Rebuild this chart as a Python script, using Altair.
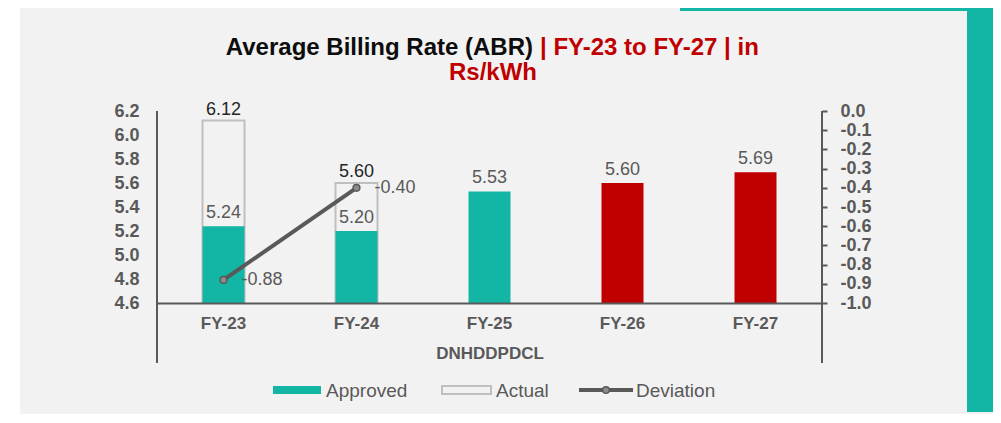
import altair as alt
import pandas as pd

# ---------------- data ----------------
categories = ["FY-23", "FY-24", "FY-25", "FY-26", "FY-27"]
approved = [5.24, 5.20, 5.53, 5.60, 5.69]
actual = [6.12, 5.60, None, None, None]
deviation = [-0.88, -0.40, None, None, None]
left_ticks = [4.6, 4.8, 5.0, 5.2, 5.4, 5.6, 5.8, 6.0, 6.2]
right_ticks = [-1.0, -0.9, -0.8, -0.7, -0.6, -0.5, -0.4, -0.3, -0.2, -0.1, 0.0]
legend_labels = ["Approved", "Actual", "Deviation"]
title_main = "Average Billing Rate (ABR)"
title_red1 = "| FY-23 to FY-27 | in"
title_red2 = "Rs/kWh"
group_label = "DNHDDPDCL"

# ---------------- style ----------------
TEAL = "#13B5A4"
RED = "#C00000"
GREY = "#595959"
OUTLINE = "#BFBFBF"
BG = "#F2F2F2"
FONT = "Liberation Sans"
W, H = 665, 192
HYPHEN = "replace(format(datum.value, '.1f'), '\u2212', '-')"

df = pd.DataFrame({"cat": categories, "approved": approved,
                   "actual": actual, "deviation": deviation})
df_act = df.dropna(subset=["actual"])
df_dev = df.dropna(subset=["deviation"])
one = pd.DataFrame({"k": [0]})

xenc = alt.X("cat:N", sort=categories,
             scale=alt.Scale(domain=categories, padding=0),
             axis=alt.Axis(title=group_label, labelAngle=0, labelFont=FONT,
                           labelFontWeight="bold", labelFontSize=17,
                           labelColor=GREY, labelPadding=12, ticks=False,
                           domain=True, domainColor=GREY, domainWidth=2,
                           titleFont=FONT, titleFontSize=17,
                           titleFontWeight="bold", titleColor=GREY,
                           titlePadding=14, grid=False, zindex=1))

left_scale = alt.Scale(domain=[4.6, 6.2], zero=False, nice=False)
left_axis = alt.Axis(orient="left", values=left_ticks, format=".1f",
                     tickCount=len(left_ticks) + 5,
                     ticks=False, domain=False, grid=False, labelFont=FONT,
                     labelFontWeight="bold", labelFontSize=18,
                     labelColor=GREY, labelPadding=18, labelOverlap=False,
                     labelFlush=False, title=None, zindex=1)
right_scale = alt.Scale(domain=[-1.0, 0.0], zero=False, nice=False)
right_axis = alt.Axis(orient="right", values=right_ticks,
                      tickCount=len(right_ticks) + 5,
                      labelExpr=HYPHEN,
                      ticks=True, tickSize=5, tickColor=GREY, tickWidth=2,
                      domain=False, grid=False, labelFont=FONT,
                      labelFontWeight="bold", labelFontSize=18,
                      labelColor=GREY, labelPadding=13, labelOverlap=False,
                      labelFlush=False, title=None, zindex=1)

# ---------------- left (bars) ----------------
actual_bar = alt.Chart(df_act).mark_bar(size=42, fill=BG, stroke=OUTLINE,
                                         strokeWidth=2).encode(
    x=xenc,
    y=alt.Y("actual:Q", scale=left_scale, axis=left_axis),
    y2=alt.datum(4.6),
)
approved_bar = alt.Chart(df).mark_bar(size=42).encode(
    x=alt.X("cat:N", sort=categories),
    y=alt.Y("approved:Q", scale=left_scale),
    y2=alt.datum(4.6),
    color=alt.Color("cat:N", scale=alt.Scale(domain=categories,
                    range=[TEAL, TEAL, TEAL, RED, RED]), legend=None),
)
approved_lbl = alt.Chart(df).mark_text(baseline="bottom", dy=-4, fontSize=18,
                                        font=FONT, color=GREY).encode(
    x=alt.X("cat:N", sort=categories),
    y=alt.Y("approved:Q", scale=left_scale),
    text=alt.Text("approved:Q", format=".2f"),
)
actual_lbl = alt.Chart(df_act).mark_text(baseline="bottom", dy=-2, fontSize=18,
                                          font=FONT, color="#262626").encode(
    x=alt.X("cat:N", sort=categories),
    y=alt.Y("actual:Q", scale=left_scale),
    text=alt.Text("actual:Q", format=".2f"),
)
left = alt.layer(actual_bar, approved_bar, approved_lbl, actual_lbl)

# ---------------- right (deviation) ----------------
dev_line = alt.Chart(df_dev).mark_line(color=GREY, strokeWidth=4).encode(
    x=alt.X("cat:N", sort=categories),
    y=alt.Y("deviation:Q", scale=right_scale, axis=right_axis),
)
dev_pts = alt.Chart(df_dev).mark_point(shape="circle", filled=True, size=45,
                                        fill="#8C8C8C", stroke=GREY,
                                        strokeWidth=1.5, opacity=1).encode(
    x=alt.X("cat:N", sort=categories),
    y=alt.Y("deviation:Q", scale=right_scale),
)
dev_lbl = alt.Chart(df_dev).transform_calculate(
    lbl="replace(format(datum.deviation, '.2f'), '\u2212', '-')"
).mark_text(align="left", baseline="middle", dx=18,
            fontSize=18, font=FONT, color=GREY).encode(
    x=alt.X("cat:N", sort=categories),
    y=alt.Y("deviation:Q", scale=right_scale),
    text="lbl:N",
)
right = alt.layer(dev_line, dev_pts, dev_lbl)

# ---------------- decorations ----------------
base = alt.Chart(one)
white_strip = base.mark_rect(color="#FFFFFF").encode(
    x=alt.value(-149), x2=alt.value(-137), y=alt.value(-103), y2=alt.value(310))
teal_side = base.mark_rect(color=TEAL).encode(
    x=alt.value(810), x2=alt.value(845), y=alt.value(-103), y2=alt.value(301))
teal_top = base.mark_rect(color=TEAL).encode(
    x=alt.value(523), x2=alt.value(836), y=alt.value(-103), y2=alt.value(-100))
vline_l = base.mark_rule(color=GREY, strokeWidth=2).encode(
    x=alt.value(0), y=alt.value(0), y2=alt.value(252))
vline_r = base.mark_rule(color=GREY, strokeWidth=2).encode(
    x=alt.value(W), y=alt.value(0), y2=alt.value(252))

t1 = base.mark_text(align="right", baseline="middle", fontSize=24,
                    fontWeight="bold", font=FONT, color="#0D0D0D").encode(
    x=alt.value(376), y=alt.value(-63), text=alt.value(title_main))
t2 = base.mark_text(align="left", baseline="middle", fontSize=24,
                    fontWeight="bold", font=FONT, color=RED).encode(
    x=alt.value(383), y=alt.value(-63), text=alt.value(title_red1))
t3 = base.mark_text(align="center", baseline="middle", fontSize=24,
                    fontWeight="bold", font=FONT, color=RED).encode(
    x=alt.value(336), y=alt.value(-38), text=alt.value(title_red2))

lg_app = base.mark_rect(color=TEAL).encode(
    x=alt.value(116), x2=alt.value(164), y=alt.value(275), y2=alt.value(283))
lg_act = base.mark_rect(fill=BG, stroke=OUTLINE, strokeWidth=2).encode(
    x=alt.value(285), x2=alt.value(334), y=alt.value(275), y2=alt.value(283))
lg_dev = base.mark_rule(color=GREY, strokeWidth=4).encode(
    x=alt.value(422), x2=alt.value(476), y=alt.value(279))
lg_dev_pt = base.mark_point(shape="circle", filled=True, size=45,
                            fill="#8C8C8C", stroke=GREY, strokeWidth=1.5,
                            opacity=1).encode(x=alt.value(449), y=alt.value(279))
lg_txt = [
    base.mark_text(align="left", baseline="middle", fontSize=19, font=FONT,
                   color=GREY).encode(x=alt.value(xp), y=alt.value(280),
                                      text=alt.value(lbl))
    for xp, lbl in zip([169, 339, 479], legend_labels)
]

chart = alt.layer(
    white_strip, teal_side, teal_top, t1, t2, t3,
    lg_app, lg_act, lg_dev, lg_dev_pt, *lg_txt,
    left, right, vline_l, vline_r,
).resolve_scale(y="independent").properties(
    width=W, height=H,
    autosize=alt.AutoSizeParams(type="none"),
    padding={"left": 149, "top": 103, "right": 171, "bottom": 111},
    background=BG,
).configure_view(stroke=None)

chart.save("out.html", embed_options={"renderer": "svg", "actions": False})
